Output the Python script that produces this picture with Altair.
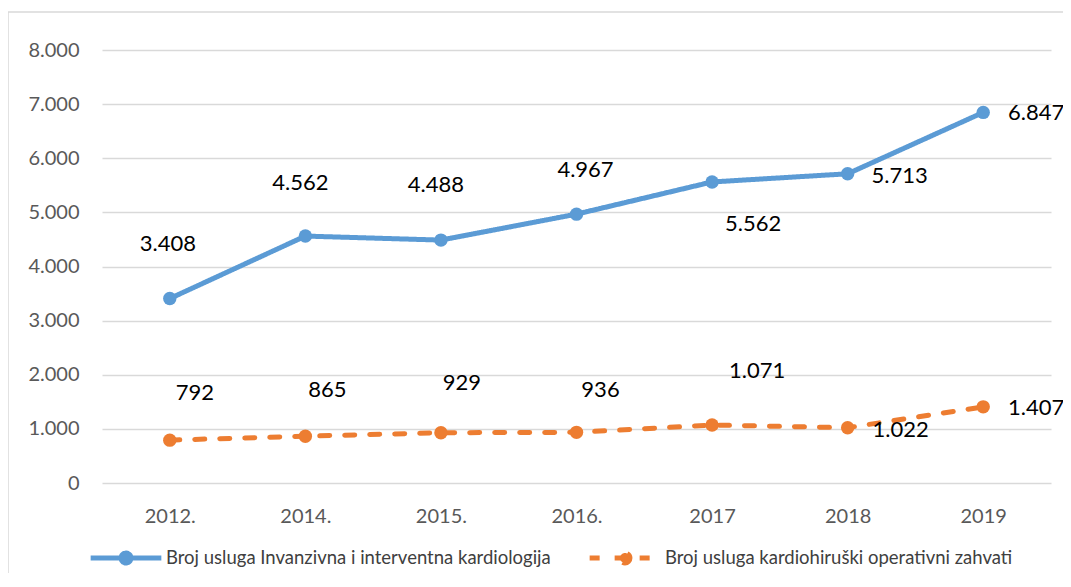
import altair as alt
import pandas as pd

years = ["2012.", "2014.", "2015.", "2016.", "2017", "2018", "2019"]
series_names = [
    "Broj usluga Invanzivna i interventna kardiologija",
    "Broj usluga kardiohiruški operativni zahvati",
]
invasive = [3408, 4562, 4488, 4967, 5562, 5713, 6847]
surgical = [792, 865, 929, 936, 1071, 1022, 1407]
colors = ["#5B9BD5", "#ED7D31"]
y_ticks = [0, 1000, 2000, 3000, 4000, 5000, 6000, 7000, 8000]

# label placement offsets (pixels) relative to each point
inv_offsets = [(-2, -55), (-5, -53), (-5, -55), (9, -44), (41, 42), (52, 2), (53, 1)]
sur_offsets = [(25, -47), (22, -46), (21, -50), (24, -42), (45, -54), (53, 2), (53, 1)]

rows = []
for name, vals in zip(series_names, [invasive, surgical]):
    for yr, v in zip(years, vals):
        rows.append({"year": yr, "series": name, "value": v})
df = pd.DataFrame(rows)

FONT = "Lato"
x_enc = alt.X("year:N", sort=years, title=None,
              axis=alt.Axis(domain=False, ticks=False, grid=False, labelAngle=0,
                            labelPadding=23, labelFontSize=20, labelColor="#595959",
                            labelFont=FONT))
y_enc = alt.Y("value:Q", title=None,
              scale=alt.Scale(domain=[0, 8000], nice=False),
              axis=alt.Axis(values=y_ticks, domain=False, ticks=False, grid=True,
                            gridColor="#d9d9d9", gridWidth=1.5, labelPadding=23,
                            labelFontSize=20, labelColor="#595959", labelFont=FONT,
                            labelExpr="replace(format(datum.value, ','), ',', '.')"))

color_scale = alt.Scale(domain=series_names, range=colors)
dash_scale = alt.Scale(domain=series_names, range=[[1, 0], [10, 15]])

legend = alt.Legend(title=None, orient="none", legendX=-14, legendY=470,
                    direction="horizontal", columns=2, columnPadding=28,
                    symbolType="M-1,0H1M0.14,0A0.14,0.14,0,1,1,-0.14,0A0.14,0.14,0,1,1,0.14,0Z",
                    symbolSize=5000, symbolStrokeWidth=5,
                    labelFontSize=18.5, labelColor="#404040", labelFont=FONT,
                    labelOffset=2, labelLimit=600)

base = alt.Chart(df)

lines = base.mark_line(strokeWidth=5, strokeCap="round").encode(
    x=x_enc, y=y_enc,
    stroke=alt.Stroke("series:N", scale=color_scale, legend=legend, sort=series_names),
    strokeDash=alt.StrokeDash("series:N", scale=dash_scale, legend=legend, sort=series_names),
)
points = base.mark_point(filled=True, size=180, opacity=1, strokeWidth=0).encode(
    x=alt.X("year:N", sort=years), y="value:Q",
    fill=alt.Fill("series:N", scale=color_scale, legend=legend, sort=series_names),
    stroke=alt.Stroke("series:N", scale=color_scale, legend=legend, sort=series_names),
)

text_layers = []
for name, vals, offs in [(series_names[0], invasive, inv_offsets),
                         (series_names[1], surgical, sur_offsets)]:
    for yr, v, (dx, dy) in zip(years, vals, offs):
        sub = df[(df.series == name) & (df.year == yr)]
        t = alt.Chart(sub).mark_text(dx=dx, dy=dy, fontSize=22, font=FONT,
                                     color="#000000").encode(
            x=alt.X("year:N", sort=years), y="value:Q",
            text="label:N",
        ).transform_calculate(label="replace(format(datum.value, ','), ',', '.')")
        text_layers.append(t)

border = alt.Chart(pd.DataFrame({"a": [0]})).mark_rule(color="#d9d9d9", strokeWidth=1.5).encode(
    x=alt.value(-94), x2=alt.value(1000), y=alt.value(-38))
border_left = alt.Chart(pd.DataFrame({"a": [0]})).mark_rule(color="#d9d9d9", strokeWidth=1.5).encode(
    x=alt.value(-94), y=alt.value(-38), y2=alt.value(560))

chart = alt.layer(border, border_left, lines, points, *text_layers).properties(
    width=949, height=433,
    autosize=alt.AutoSizeParams(type="none"),
    padding={"left": 94, "top": 42, "right": 12, "bottom": 90},
).configure_view(stroke=None).resolve_scale(x="shared")

chart.save("out.html", embed_options={"renderer": "svg", "actions": False})
